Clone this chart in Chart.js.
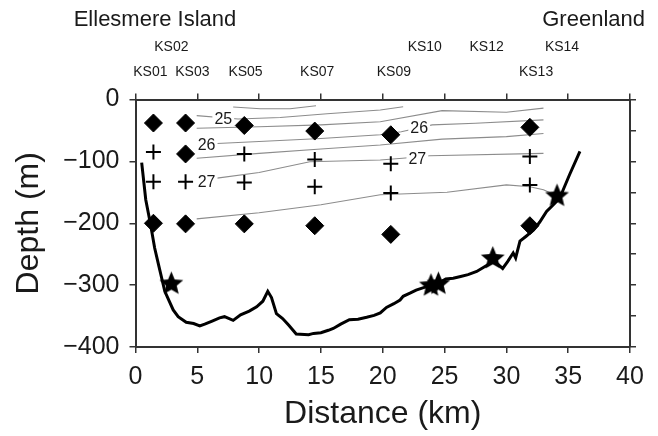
<!DOCTYPE html>
<html>
<head>
<meta charset="utf-8">
<script src="https://cdn.jsdelivr.net/npm/chart.js@4.4.1/dist/chart.umd.min.js"></script>
<style>
  html, body { margin: 0; padding: 0; background: #fff; }
  canvas { display: block; }
</style>
</head>
<body>
<canvas id="section" width="658" height="436"></canvas>
<script>
// Station names along the top, their distance (km) and label row (1 = upper)
const stationNames = ['KS01', 'KS02', 'KS03', 'KS05', 'KS07', 'KS09', 'KS10', 'KS12', 'KS13', 'KS14'];
const stationKm    = [1.2, 2.9, 4.6, 8.9, 14.7, 20.9, 23.4, 28.4, 32.4, 34.5];
const stationRow   = [0, 1, 0, 0, 0, 0, 1, 1, 0, 1];

// Bottom profile (km, m)
const bottomKm = [0.5, 0.83, 1.2, 1.55, 1.9, 2.37, 3.05, 3.45, 4.1, 4.7, 5.2, 5.6, 6.2, 6.8, 7.2, 7.9, 8.5, 9.2, 9.8, 10.3,
  10.7, 11.0, 11.4, 11.9, 12.4, 13.0, 14.0, 14.4, 15.0, 15.6, 16.0, 16.6, 17.3, 18.0, 18.7, 19.3, 19.8, 20.3, 20.9, 21.4,
  21.65, 22.2, 22.7, 23.3, 23.9, 24.6, 25.1, 25.7, 26.3, 26.9, 27.6, 28.1, 28.5, 28.9, 29.3, 29.7, 30.1, 30.55, 30.75, 31.1,
  31.6, 32.2, 32.7, 33.25, 33.8, 34.3, 35.1, 35.95];
const bottomDepth = [-102, -162, -200, -240, -270, -310, -340, -351, -360, -362, -366, -363, -358, -353, -351, -357, -348, -342, -335, -326,
  -310, -320, -346, -354, -365, -379, -380, -378, -377, -373, -370, -363, -356, -355, -352, -349, -345, -336, -330, -324,
  -318, -313, -308, -304, -301, -296, -290, -289, -286, -283, -278, -272, -267, -260, -266, -273, -262, -248, -256, -229,
  -221, -211, -198, -181, -170, -160, -122, -84];

// Density contours
const contourKm = [
  [7.9, 10.1, 12.5, 14.6],
  [4.95, 8.3, 11.7, 15.5, 19.8, 21.65],
  [4.95, 10, 15, 19.8, 24.8, 30, 33],
  [6.6, 10, 15, 19.8, 21.5, 24, 27.5, 33],
  [4.95, 10, 15, 19.8, 24.8, 30, 33],
  [6.6, 10, 14.1, 19.8, 21.6, 23.8, 33],
  [4.95, 10, 15, 19.8, 25.2, 30, 31.9, 33, 33.9]
];
const contourDepth = [
  [-12, -15, -15, -10],
  [-26, -31.5, -29, -23, -17, -11.6],
  [-46.5, -44, -41, -36, -18, -20.7, -14],
  [-71, -68, -63, -57, -52, -41, -38.4, -33],
  [-95, -87, -80, -73.5, -64, -60, -55],
  [-127, -118, -100.5, -97.7, -95, -91, -87],
  [-193, -183, -170, -154, -150, -138, -141, -146, -154]
];
const tagText  = ['25', '26', '27', '26', '27'];
const tagKm    = [7.1, 5.75, 5.75, 22.95, 22.8];
const tagDepth = [-31.5, -73.5, -133, -45.5, -95];

// Sample markers
const diamondKm    = [1.45, 4.05, 8.8, 14.5, 20.65, 31.9, 4.05, 1.45, 4.05, 8.8, 14.5, 20.65, 31.9];
const diamondDepth = [-38, -38, -42, -51, -57, -45, -88, -200, -201, -201, -204, -218, -204];
const crossKm      = [1.45, 1.45, 4.05, 8.8, 8.8, 14.5, 14.5, 20.65, 20.65, 31.9, 31.9];
const crossDepth   = [-85, -133, -133, -88, -134, -97, -141, -104, -151, -92, -138];
const starKm       = [2.9, 23.9, 24.5, 28.9, 34.1];
const starDepth    = [-298, -301, -298, -257, -156];

const FONT = '"Liberation Sans", Arial, Helvetica, sans-serif';
const INK = '#1a1a1a';
const FRAME = '#333';

const pts = (xs, ys) => xs.map((x, i) => ({ x: x, y: ys[i] }));

// filled five-point star used as point style
function makeStar(R) {
  const c = document.createElement('canvas');
  c.width = c.height = 2 * R + 2;
  const g = c.getContext('2d');
  const r = R * 0.45;
  g.beginPath();
  for (let k = 0; k < 10; k++) {
    const a = -Math.PI / 2 + k * Math.PI / 5;
    const rr = k % 2 ? r : R;
    g.lineTo(R + 1 + rr * Math.cos(a), R + 1 + rr * Math.sin(a));
  }
  g.closePath();
  g.fillStyle = '#000';
  g.fill();
  return c;
}

const contourSets = contourKm.map((xs, i) => ({
  label: 'contour' + i,
  data: pts(xs, contourDepth[i]),
  showLine: true,
  borderColor: '#8c8c8c',
  borderWidth: 1.1,
  pointRadius: 0,
  tension: 0,
  order: 3
}));

// draws station names and region names above the frame, contour tags on lines
const annotate = {
  id: 'annotate',
  beforeDatasetDraw(chart, args) {
    if (args.meta.label !== 'bottom') return;
    const ctx = chart.ctx, xs = chart.scales.x, ys = chart.scales.y;
    ctx.save();
    ctx.font = '16px ' + FONT;
    ctx.textAlign = 'center';
    ctx.textBaseline = 'middle';
    tagText.forEach((t, i) => {
      const px = xs.getPixelForValue(tagKm[i]);
      const py = ys.getPixelForValue(tagDepth[i]);
      const w = ctx.measureText(t).width;
      ctx.fillStyle = '#fff';
      ctx.fillRect(px - w / 2 - 2, py - 7, w + 4, 14);
      ctx.fillStyle = INK;
      ctx.fillText(t, px, py + 1);
    });
    ctx.restore();
  },
  afterDraw(chart) {
    const ctx = chart.ctx, xs = chart.scales.x;
    ctx.save();
    ctx.fillStyle = INK;
    ctx.textBaseline = 'middle';
    ctx.font = '22px ' + FONT;
    ctx.textAlign = 'center';
    ctx.fillText('Ellesmere Island', 155, 20);
    ctx.textAlign = 'right';
    ctx.fillText('Greenland', 645, 20);
    ctx.font = '14px ' + FONT;
    ctx.textAlign = 'center';
    stationNames.forEach((n, i) => {
      ctx.fillText(n, xs.getPixelForValue(stationKm[i]), stationRow[i] ? 47 : 72);
    });
    ctx.restore();
  }
};

const gridOpts = { drawOnChartArea: false, drawTicks: true, tickLength: 6, color: FRAME, lineWidth: 1.5 };
const borderOpts = { display: true, color: FRAME, width: 2 };
const blank = () => '';

const ctx = document.getElementById('section').getContext('2d');
const chart = new Chart(ctx, {
  type: 'scatter',
  data: {
    datasets: [
      {
        label: 'stars',
        data: pts(starKm, starDepth),
        pointStyle: makeStar(12.5),
        pointRadius: 13,
        order: 0
      },
      {
        label: 'diamonds',
        data: pts(diamondKm, diamondDepth),
        pointStyle: 'rectRot',
        pointRadius: 9,
        backgroundColor: '#000',
        borderColor: '#000',
        borderWidth: 1,
        order: 0
      },
      {
        label: 'crosses',
        data: pts(crossKm, crossDepth),
        pointStyle: 'cross',
        pointRadius: 7.5,
        borderColor: '#000',
        borderWidth: 2,
        order: 0
      },
      {
        label: 'bottom',
        data: pts(bottomKm, bottomDepth),
        showLine: true,
        borderColor: '#000',
        borderWidth: 3,
        pointRadius: 0,
        tension: 0,
        order: 2
      },
      ...contourSets
    ]
  },
  options: {
    responsive: false,
    animation: false,
    devicePixelRatio: 1,
    layout: { padding: 0 },
    plugins: { legend: { display: false }, tooltip: { enabled: false } },
    scales: {
      x: {
        type: 'linear', position: 'bottom', min: 0, max: 40,
        afterFit: s => { s.height = 89; },
        ticks: { stepSize: 5, color: INK, padding: 9, font: { family: FONT, size: 25 } },
        grid: gridOpts, border: borderOpts,
        title: { display: true, text: 'Distance (km)', color: INK, font: { family: FONT, size: 32 }, padding: { top: 0, bottom: 3 } }
      },
      x2: {
        type: 'linear', position: 'top', min: 0, max: 40,
        afterFit: s => { s.height = 99.5; },
        ticks: { stepSize: 5, callback: blank },
        grid: gridOpts, border: borderOpts
      },
      y: {
        type: 'linear', position: 'left', min: -400, max: 0,
        afterFit: s => { s.width = 135.5; },
        ticks: {
          stepSize: 50, color: INK, padding: 10, font: { family: FONT, size: 25 },
          callback: v => (v % 100 !== 0 ? '' : (v === 0 ? '0' : '\u2212' + Math.abs(v)))
        },
        grid: gridOpts, border: borderOpts,
        title: { display: true, text: 'Depth (m)', color: INK, font: { family: FONT, size: 32 }, padding: { top: 10, bottom: 0 } }
      },
      y2: {
        type: 'linear', position: 'right', min: -400, max: 0,
        afterFit: s => { s.width = 28; },
        ticks: { stepSize: 50, callback: blank },
        grid: gridOpts, border: borderOpts
      }
    }
  },
  plugins: [annotate]
});
</script>
</body>
</html>
